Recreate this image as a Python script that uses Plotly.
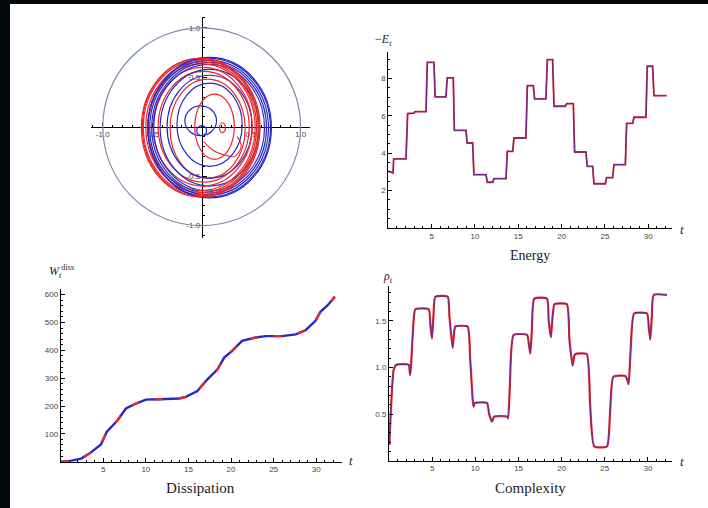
import plotly.graph_objects as go

W, H = 708, 508

def px_x(p):
    return p / W

def px_y(p):
    return (H - p) / H

# ---------------- data ----------------
# Energy (-E_t)
energy_t = [0, 0.55, 0.62, 2.04, 2.23, 2.96, 3.1, 4.35, 4.5, 5.27, 5.4, 6.65, 6.8, 7.5, 7.62,
            8.96, 9.1, 9.73, 9.88, 11.27, 11.42, 12.04, 12.2, 13.58, 13.73, 14.35, 14.5, 15.88,
            16.04, 16.73, 16.88, 18.19, 18.35, 18.96, 19.12, 20.42, 20.58, 21.35, 21.5, 22.8,
            22.96, 23.58, 23.73, 25.04, 25.19, 25.88, 26.04, 27.35, 27.5, 28.19, 28.35, 29.73,
            29.88, 30.5, 30.65, 32.1]
energy_v = [3.04, 2.95, 3.7, 3.7, 6.12, 6.15, 6.23, 6.23, 8.87, 8.87, 7.02, 7.02, 8.04, 8.04, 5.23,
            5.23, 4.55, 4.55, 2.86, 2.86, 2.45, 2.45, 2.64, 2.64, 4.1, 4.1, 4.82, 4.82,
            7.62, 7.62, 6.91, 6.91, 9.02, 9.02, 6.52, 6.52, 6.66, 6.66, 4.07, 4.07,
            3.3, 3.3, 2.37, 2.37, 2.7, 2.7, 3.39, 3.39, 5.6, 5.6, 5.93, 5.93,
            8.66, 8.66, 7.09, 7.09]

# Dissipation (W_t^diss)
diss_t = [0, 1.0, 2.4, 3.36, 4.73, 5.4, 6.68, 7.66, 8.63, 10, 11.56, 12.9, 13.9, 14.7, 16.05,
          17.2, 18.4, 19.2, 20.2, 21.3, 22.9, 24.1, 26, 27.6, 28.75, 29.9, 30.5, 31.3, 32.2]
diss_v = [0, 2, 11, 29, 62, 107, 149, 191, 206, 223, 224, 227, 227, 233, 254,
          295, 331, 374, 400, 434, 446, 451, 451, 457, 472, 505, 538, 560, 592]

# Complexity (rho_t)
comp_t = [0.05, 0.25, 0.54, 0.85, 2.28, 2.4, 2.47, 2.6, 2.85, 3.05, 4.6, 4.8, 4.98, 5.15, 5.37,
          6.8, 7.0, 7.37, 7.55, 7.68, 9.1, 9.4, 9.7, 9.8, 9.95, 11.35, 11.6, 11.93, 12.1, 12.2,
          13.67, 13.8, 14.0, 14.44, 16.0, 16.2, 16.37, 16.55, 16.83, 18.3, 18.5, 18.76, 18.95,
          19.19, 20.6, 20.9, 21.27, 21.45, 21.58, 22.9, 23.3, 23.78, 25.25, 25.6, 26.0, 27.37,
          27.6, 27.76, 28.0, 28.4, 29.9, 30.1, 30.27, 30.45, 30.66, 32.2]
comp_v = [0.17, 0.6, 0.975, 1.03, 1.03, 0.95, 0.92, 1.1, 1.5, 1.625, 1.625, 1.45, 1.31, 1.55, 1.76,
          1.76, 1.55, 1.21, 1.38, 1.44, 1.44, 1.1, 0.65, 0.58, 0.62, 0.62, 0.5, 0.42, 0.46, 0.475,
          0.475, 0.455, 0.8, 1.35, 1.35, 1.25, 1.15, 1.4, 1.74, 1.74, 1.5, 1.325, 1.55,
          1.68, 1.68, 1.3, 1.02, 1.12, 1.145, 1.145, 0.6, 0.153, 0.153, 0.5, 0.9, 0.91,
          0.87, 0.82, 1.2, 1.58, 1.58, 1.42, 1.3, 1.55, 1.78, 1.78]

# Phase portrait loops: colour, centre x, centre y, half-width, half-height
loop_col = ["b", "b", "r", "r", "b", "r", "b", "r", "b", "r",
            "b", "r", "b", "r", "b", "r", "b", "r", "b", "r"]
loop_cx = [0.0, -0.01, 0.21, 0.13, 0.08, 0.06, 0.08, 0.02, 0.08, 0.01,
           0.075, 0.0, 0.075, -0.005, 0.075, -0.01, 0.075, -0.01, 0.08, -0.01]
loop_cy = [-0.04, 0.06, -0.01, 0.0, 0.02, -0.02, 0.0, 0.0, -0.01, 0.0,
           -0.01, -0.005, -0.01, -0.005, -0.01, -0.005, -0.01, -0.005, -0.01, -0.01]
loop_rx = [0.05, 0.16, 0.03, 0.2, 0.33, 0.38, 0.43, 0.46, 0.5, 0.5,
           0.56, 0.54, 0.58, 0.56, 0.60, 0.58, 0.62, 0.59, 0.625, 0.60]
loop_ry = [0.05, 0.15, 0.05, 0.33, 0.42, 0.5, 0.52, 0.56, 0.59, 0.6,
           0.64, 0.64, 0.66, 0.66, 0.68, 0.68, 0.70, 0.695, 0.71, 0.70]
# inner red cusp path
cusp_x = [0.02, 0.12, 0.25, 0.33, 0.40, 0.36]
cusp_y = [-0.15, -0.24, -0.29, -0.30, -0.2, -0.1]

unit_circle = [-1.0, 1.0]

ticks_pp = [-1.0, -0.5, 0.5, 1.0]
ticks_pp_text = ["-1.0", "-0.5", "0.5", "1.0"]
ticks_t = [5, 10, 15, 20, 25, 30]
ticks_e = [2, 4, 6, 8]
ticks_w = [100, 200, 300, 400, 500, 600]
ticks_r = [0.5, 1.0, 1.5]
ticks_r_text = ["0.5", "1.0", "1.5"]

RED = "rgb(232,40,40)"
BLUE = "rgb(40,40,200)"
tickfont = dict(family="Liberation Sans", size=8, color="#444")

fig = go.Figure()

fig.add_trace(go.Scatter(x=cusp_x, y=cusp_y, mode="lines", line=dict(color=RED, width=1.1, shape="spline"),
                         xaxis="x", yaxis="y", showlegend=False, hoverinfo="skip"))

# energy
fig.add_trace(go.Scatter(x=energy_t, y=energy_v, mode="lines", line=dict(color=RED, width=1.8),
                         xaxis="x2", yaxis="y2", showlegend=False))
fig.add_trace(go.Scatter(x=energy_t, y=energy_v, mode="lines", line=dict(color=BLUE, width=1.3),
                         opacity=0.6, xaxis="x2", yaxis="y2", showlegend=False))

# dissipation
fig.add_trace(go.Scatter(x=diss_t, y=diss_v, mode="lines", line=dict(color=BLUE, width=2.4),
                         xaxis="x3", yaxis="y3", showlegend=False))
fig.add_trace(go.Scatter(x=diss_t, y=diss_v, mode="lines", line=dict(color=RED, width=2.4, dash="8px,16px"),
                         xaxis="x3", yaxis="y3", showlegend=False))

# complexity
fig.add_trace(go.Scatter(x=comp_t, y=comp_v, mode="lines", line=dict(color=RED, width=2.2, shape="spline", smoothing=0.5),
                         xaxis="x4", yaxis="y4", showlegend=False))
fig.add_trace(go.Scatter(x=comp_t, y=comp_v, mode="lines", line=dict(color=BLUE, width=1.1, shape="spline", smoothing=0.5),
                         opacity=0.6, xaxis="x4", yaxis="y4", showlegend=False))

shapes = []
shapes.append(dict(type="circle", xref="x", yref="y", x0=unit_circle[0], x1=unit_circle[1],
                   y0=unit_circle[0], y1=unit_circle[1], line=dict(color="rgb(120,140,175)", width=1.2)))
for c, cx, cy, rx, ry in zip(loop_col, loop_cx, loop_cy, loop_rx, loop_ry):
    shapes.append(dict(type="circle", xref="x", yref="y", x0=cx - rx, x1=cx + rx, y0=cy - ry, y1=cy + ry,
                       line=dict(color=RED if c == "r" else BLUE, width=1.2)))
# black border strips
shapes.append(dict(type="rect", xref="paper", yref="paper", x0=0, x1=px_x(10), y0=0, y1=1,
                   fillcolor="#020a0d", line=dict(width=0)))
shapes.append(dict(type="rect", xref="paper", yref="paper", x0=0, x1=1, y0=px_y(4), y1=1,
                   fillcolor="#020a0d", line=dict(width=0)))

common_axis = dict(showgrid=False, zeroline=False, showline=True, linecolor="black", linewidth=1,
                   ticks="inside", ticklen=4, tickwidth=1, tickcolor="black", tickfont=tickfont)

def minor(d):
    return dict(tickmode="linear", tick0=0, dtick=d, ticks="inside", ticklen=2, tickcolor="black", showgrid=False)

pp_xr = [-1.122, 1.095]
pp_yr = [-1.125, 1.112]
pp_xdom = [px_x(90.7), px_x(310)]
pp_ydom = [px_y(238), px_y(16.7)]

layout = dict(
    width=W, height=H, autosize=False,
    margin=dict(l=0, r=0, t=0, b=0),
    paper_bgcolor="white", plot_bgcolor="rgba(0,0,0,0)",
    shapes=shapes,
    xaxis=dict(**common_axis, domain=pp_xdom, range=pp_xr, anchor="free", position=px_y(126.7),
               tickmode="array", tickvals=ticks_pp, ticktext=ticks_pp_text, minor=minor(0.1)),
    yaxis=dict(**common_axis, domain=pp_ydom, range=pp_yr, anchor="free", position=px_x(201.7),
               tickmode="array", tickvals=ticks_pp, ticktext=ticks_pp_text, minor=minor(0.1)),
    xaxis2=dict(**common_axis, domain=[px_x(388.3), px_x(671.7)], range=[0, 32.7], anchor="y2",
                tickmode="array", tickvals=ticks_t, minor=minor(1)),
    yaxis2=dict(**common_axis, domain=[px_y(228), px_y(51.7)], range=[0, 9.44], anchor="x2",
                tickmode="array", tickvals=ticks_e, minor=minor(0.5)),
    xaxis3=dict(**common_axis, domain=[px_x(60.7), px_x(341.7)], range=[0, 33.0], anchor="y3",
                tickmode="array", tickvals=ticks_t, minor=minor(1)),
    yaxis3=dict(**common_axis, domain=[px_y(461.7), px_y(289.3)], range=[0, 619], anchor="x3",
                tickmode="array", tickvals=ticks_w, minor=minor(20)),
    xaxis4=dict(**common_axis, domain=[px_x(389), px_x(671.7)], range=[0, 32.75], anchor="y4",
                tickmode="array", tickvals=ticks_t, minor=minor(1)),
    yaxis4=dict(**common_axis, domain=[px_y(460.7), px_y(286)], range=[0, 1.875], anchor="x4",
                tickmode="array", tickvals=ticks_r, ticktext=ticks_r_text, minor=minor(0.1)),
)
fig.update_layout(**layout)

serif = "Liberation Serif"
ann = []
def note(x, y, text, size):
    ann.append(dict(xref="paper", yref="paper", x=px_x(x), y=px_y(y), text=text, showarrow=False,
                    xanchor="center", yanchor="middle",
                    font=dict(family=serif, size=size, color="#222")))

note(383, 40, "−<i>E<sub>t</sub></i>", 12)
note(682, 229, "<i>t</i>", 13)
note(530, 255, "Energy", 14)
note(61, 272, "<i>W<sub>t</sub></i><sup>diss</sup>", 12)
note(351, 460, "<i>t</i>", 13)
note(200, 488, "Dissipation", 15)
note(388, 277, "<i>ρ<sub>t</sub></i>", 12)
note(682, 462, "<i>t</i>", 13)
note(530, 488, "Complexity", 15)
fig.update_layout(annotations=ann)

fig.write_html("out.html", config={"displayModeBar": False},
               post_script="document.body.style.margin='0';document.body.style.overflow='hidden';")
